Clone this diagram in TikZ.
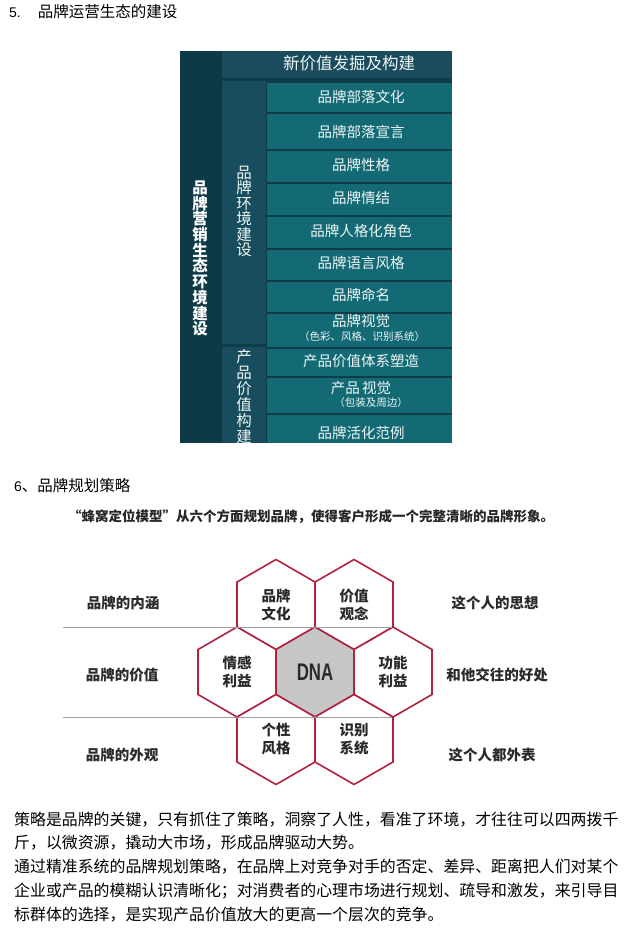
\documentclass[tikz,border=0pt]{standalone}
\usepackage{fontspec}
\setmainfont{Noto Sans CJK SC}
\newfontfamily\latinsans{Liberation Sans}
\usetikzlibrary{shapes.geometric}
\definecolor{pDark}{HTML}{0D3A46}
\definecolor{pMid}{HTML}{174D5C}
\definecolor{pBand}{HTML}{1B4C5E}
\definecolor{pRow}{HTML}{146A74}
\definecolor{pSep}{HTML}{0E3C48}
\definecolor{pText}{HTML}{EEF6F6}
\definecolor{hexRed}{HTML}{B0233F}
\definecolor{dnaGray}{HTML}{C6C6C6}
\definecolor{lblText}{HTML}{2A2A2A}
\tikzset{
  rowtext/.style={text=pText, font=\fontsize{14.5}{16}\selectfont, inner sep=0, align=center},
  subtext/.style={text=pText, font=\fontsize{10.5}{12}\selectfont, inner sep=0},
  vtext/.style={text=pText, inner sep=0, align=center},
  hexcell/.style={regular polygon, regular polygon sides=6, shape border rotate=30,
    minimum size=90pt, inner sep=0, draw=hexRed, line width=1.6pt, fill=white,
    align=center, text=lblText, font=\fontsize{14.5}{18}\selectfont\bfseries},
  sidelabel/.style={text=lblText, font=\fontsize{14.5}{16}\selectfont\bfseries, inner sep=0},
  bodyline/.style={anchor=west, inner sep=0, font=\fontsize{15.9}{18}\selectfont, text=black},
  sepline/.style={draw=gray!75, line width=0.9pt}
}
\begin{document}
\begin{tikzpicture}[x=1pt,y=-1pt]
\useasboundingbox[fill=white] (0,0) rectangle (636,939);

% ---- heading 5
\node[anchor=west, inner sep=0, font=\fontsize{15.5}{17}\selectfont] (h5) at (9,12)
  {{\latinsans\fontsize{14}{16}\selectfont 5.}\hspace{17pt}品牌运营生态的建设};

% ---- dark panel
\fill[pDark] (180,51) rectangle (222,443);
\fill[pMid] (222,51) rectangle (266,443);
\fill[pBand] (222,51) rectangle (452,78.5);
\fill[pSep] (222,78.5) rectangle (452,81);
\fill[pSep] (266,81) rectangle (452,443);
\fill[pSep] (222,344) rectangle (266,346.5);
\foreach \ya/\yb in {81/112, 112/149, 149/182, 182/215, 215/248, 248/280, 280/312, 312/347, 347/376, 376/413, 413/443}{
  \fill[pRow] (267,\ya+1.8) rectangle (452,\yb);
}
\node[rowtext, font=\fontsize{16.5}{18}\selectfont] (band) at (349,63) {新价值发掘及构建};
\node[rowtext] (r1) at (361,97) {品牌部落文化};
\node[rowtext] (r2) at (361,132) {品牌部落宣言};
\node[rowtext] (r3) at (361,165) {品牌性格};
\node[rowtext] (r4) at (361,198) {品牌情结};
\node[rowtext] (r5) at (361,231) {品牌人格化角色};
\node[rowtext] (r6) at (361,263) {品牌语言风格};
\node[rowtext] (r7) at (361,295) {品牌命名};
\node[rowtext] (r8) at (361,321) {品牌视觉};
\node[subtext] (r8s) at (362,337) {（色彩、风格、识别系统）};
\node[rowtext] (r9) at (361,361) {产品价值体系塑造};
\node[rowtext] (r10) at (361,388) {产品\,视觉};
\node[subtext] (r10s) at (371,403) {（包装及周边）};
\node[rowtext] (r11) at (361,433) {品牌活化范例};

\node[vtext, text=white, font=\fontsize{15.5}{15.7}\selectfont\bfseries] (vleft) at (200,258.5)
  {品\\牌\\营\\销\\生\\态\\环\\境\\建\\设};
\node[vtext, font=\fontsize{15.5}{15.5}\selectfont] (vmid1) at (244,211.5)
  {品\\牌\\环\\境\\建\\设};
\begin{scope}
\clip (222,346.5) rectangle (266,443);
\node[vtext, font=\fontsize{15.5}{16}\selectfont] (vmid2) at (244,396.5)
  {产\\品\\价\\值\\构\\建};
\end{scope}

% ---- heading 6
\node[anchor=west, inner sep=0, font=\fontsize{15.5}{17}\selectfont] (h6) at (14,486)
  {{\latinsans\fontsize{14}{16}\selectfont 6}、品牌规划策略};
\node[inner sep=0, font=\fontsize{13.5}{15}\selectfont\bfseries, text=black!85] (cap) at (311,517)
  {“蜂窝定位模型”从六个方面规划品牌，使得客户形成一个完整清晰的品牌形象。};

% ---- honeycomb
\node[hexcell] (hCul) at (276,604.5) {品牌\\文化};
\node[hexcell] (hVal) at (354,604.5) {价值\\观念};
\node[hexcell] (hEmo) at (237,672) {情感\\利益};
\node[hexcell, fill=dnaGray] (hDNA) at (315,672) {\latinsans\bfseries\fontsize{24}{24}\selectfont\scalebox{0.7}[1]{DNA}};
\node[hexcell] (hFun) at (393,672) {功能\\利益};
\node[hexcell] (hPer) at (276,739.5) {个性\\风格};
\node[hexcell] (hIde) at (354,739.5) {识别\\系统};

\coordinate (l1a) at (63,627);
\coordinate (l1b) at (392,627);
\coordinate (l2a) at (63,717);
\coordinate (l2b) at (392,717);
\draw[sepline] (l1a) -- (l1b);
\draw[sepline] (l2a) -- (l2b);

\node[sidelabel] (L1) at (123,603) {品牌的内涵};
\node[sidelabel] (L2) at (122,675) {品牌的价值};
\node[sidelabel] (L3) at (122,755) {品牌的外观};
\node[sidelabel] (R1) at (495,603) {这个人的思想};
\node[sidelabel] (R2) at (497,675) {和他交往的好处};
\node[sidelabel] (R3) at (492,755) {这个人都外表};

% ---- body text
\node[bodyline] (p1) at (14,820) {策略是品牌的关键，只有抓住了策略，洞察了人性，看准了环境，才往往可以四两拨千};
\node[bodyline] (p2) at (14,843) {斤，以微资源，撬动大市场，形成品牌驱动大势。};
\node[bodyline] (p3) at (14,867) {通过精准系统的品牌规划策略，在品牌上对竞争对手的否定、差异、距离把人们对某个};
\node[bodyline] (p4) at (14,891) {企业或产品的模糊认识清晰化；对消费者的心理市场进行规划、疏导和激发，来引导目};
\node[bodyline] (p5) at (14,915) {标群体的选择，是实现产品价值放大的更高一个层次的竞争。};
\end{tikzpicture}
\end{document}
